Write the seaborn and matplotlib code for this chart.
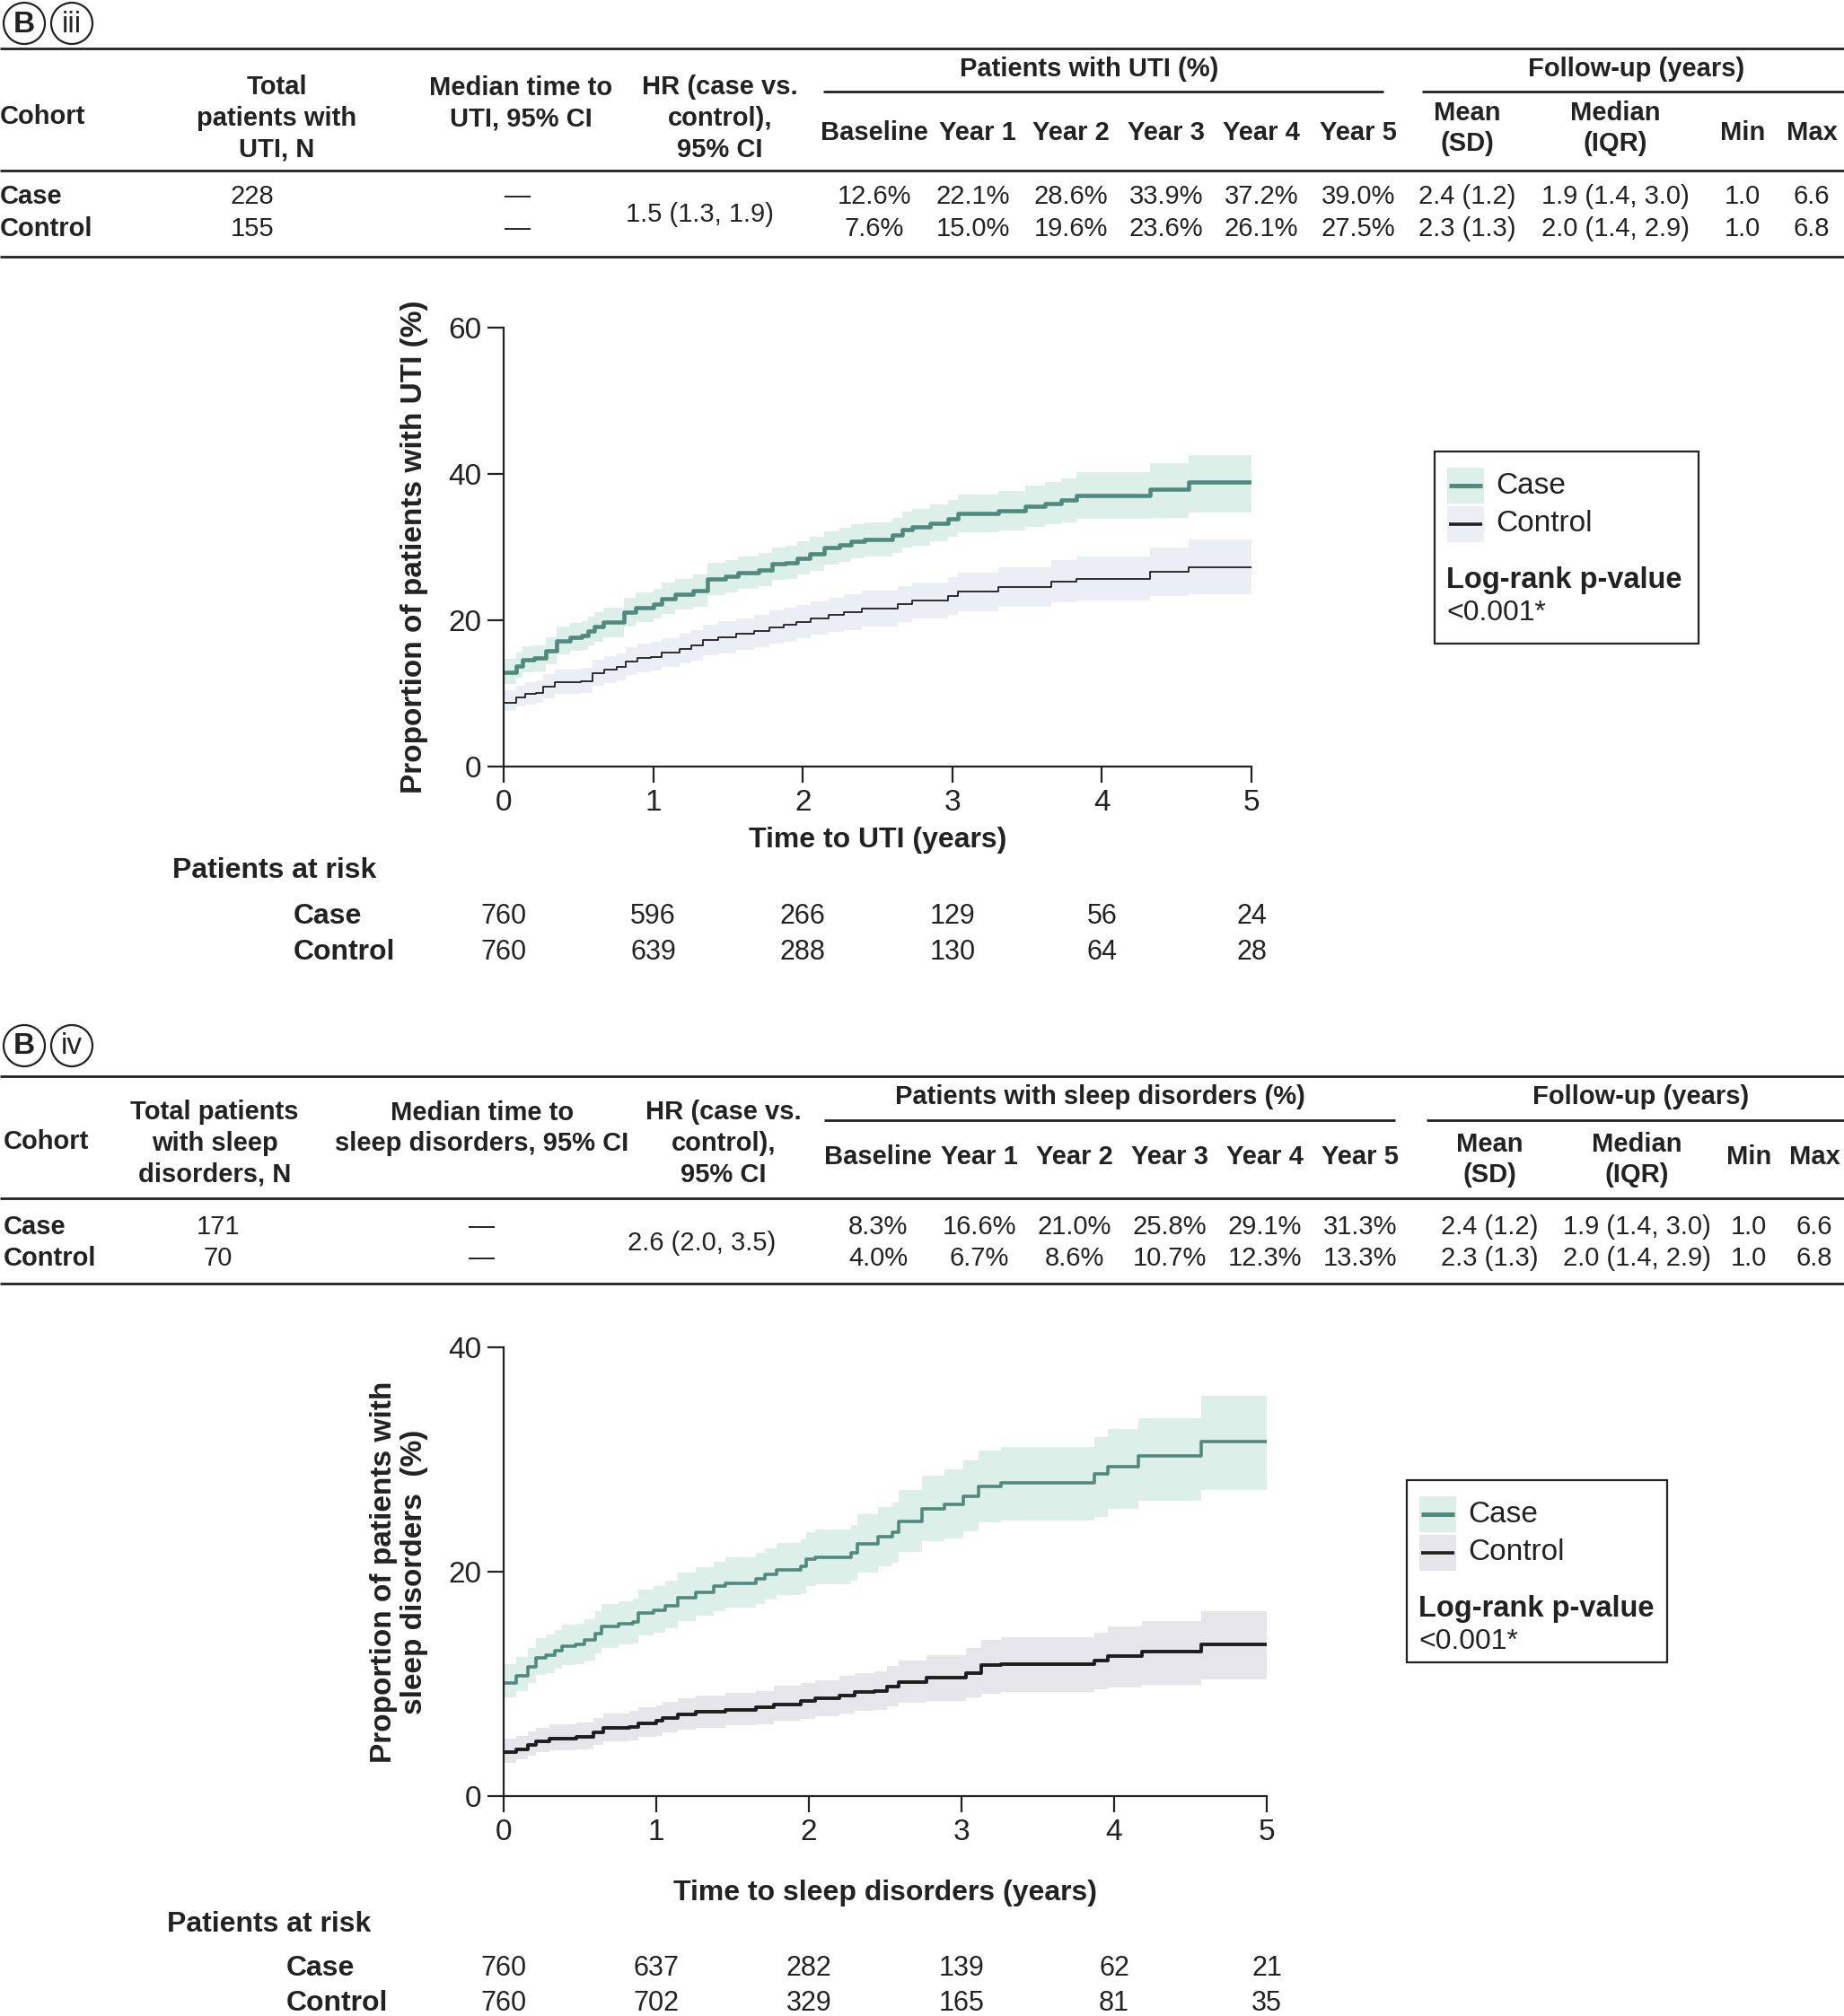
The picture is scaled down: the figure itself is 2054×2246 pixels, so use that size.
import matplotlib
matplotlib.use('Agg')
import matplotlib.pyplot as plt
from matplotlib import font_manager
from matplotlib.patches import Rectangle, Circle
from matplotlib.transforms import blended_transform_factory
import seaborn as sns

# ---------------- data ----------------
years = [0, 1, 2, 3, 4, 5]
pct_cols = ['Baseline', 'Year 1', 'Year 2', 'Year 3', 'Year 4', 'Year 5']
cohorts = ['Case', 'Control']

# follow-up (same for both panels)
fu_mean = [2.4, 2.3]
fu_sd = [1.2, 1.3]
fu_median = [1.9, 2.0]
fu_q1 = [1.4, 1.4]
fu_q3 = [3.0, 2.9]
fu_min = [1.0, 1.0]
fu_max = [6.6, 6.8]

# panel iii - UTI
uti_total = [228, 155]
uti_hr = '1.5 (1.3, 1.9)'
uti_pct_case = [12.6, 22.1, 28.6, 33.9, 37.2, 39.0]
uti_pct_ctrl = [7.6, 15.0, 19.6, 23.6, 26.1, 27.5]
uti_risk_case = [760, 596, 266, 129, 56, 24]
uti_risk_ctrl = [760, 639, 288, 130, 64, 28]

uti_case_t = [0, 0.085, 0.125, 0.205, 0.285, 0.355, 0.445, 0.525, 0.565, 0.605, 0.665, 0.805, 0.885, 1.005,
              1.055, 1.145, 1.265, 1.365, 1.485, 1.565, 1.705, 1.795, 1.885, 1.965, 2.045, 2.145, 2.245, 2.325,
              2.415, 2.60, 2.665, 2.73, 2.85, 2.97, 3.04, 3.31, 3.49, 3.62, 3.73, 3.83, 4.32, 4.58, 5.0]
uti_case_v = [12.9, 13.8, 14.6, 14.8, 15.8, 17.2, 17.7, 17.9, 18.5, 19.1, 19.7, 21.1, 21.7, 22.2,
              23.0, 23.6, 24.0, 25.6, 26.0, 26.5, 26.9, 27.7, 27.9, 28.5, 29.1, 29.9, 30.3, 30.8,
              31.0, 31.6, 32.4, 32.7, 33.3, 33.9, 34.6, 35.0, 35.6, 36.0, 36.4, 37.0, 37.9, 38.9, 38.9]
uti_case_lo = [11.3, 12.1, 12.9, 13.0, 14.0, 15.3, 15.8, 16.0, 16.6, 17.1, 17.7, 19.1, 19.7, 20.2,
               20.9, 21.5, 21.9, 23.4, 23.8, 24.3, 24.7, 25.5, 25.7, 26.3, 26.8, 27.6, 28.0, 28.5,
               28.7, 29.2, 30.0, 30.2, 30.8, 31.4, 32.0, 32.3, 32.8, 33.1, 33.4, 33.9, 34.0, 34.7, 34.7]
uti_case_hi = [14.7, 15.6, 16.4, 16.6, 17.7, 19.1, 19.6, 19.9, 20.5, 21.1, 21.7, 23.1, 23.8, 24.3,
               25.1, 25.7, 26.2, 27.8, 28.2, 28.7, 29.2, 30.0, 30.2, 30.8, 31.4, 32.2, 32.6, 33.1,
               33.4, 34.0, 34.8, 35.2, 35.8, 36.5, 37.2, 37.7, 38.4, 38.9, 39.4, 40.3, 41.5, 42.6, 42.6]

uti_ctrl_t = [0, 0.085, 0.145, 0.215, 0.265, 0.345, 0.515, 0.595, 0.675, 0.755, 0.815, 0.895, 0.985, 1.055,
              1.175, 1.255, 1.335, 1.435, 1.555, 1.675, 1.775, 1.875, 1.955, 2.055, 2.175, 2.275, 2.395, 2.635,
              2.73, 2.97, 3.04, 3.31, 3.66, 3.83, 4.32, 4.58, 5.0]
uti_ctrl_v = [8.7, 9.5, 9.9, 10.1, 10.9, 11.5, 11.7, 12.8, 13.2, 13.6, 14.4, 14.8, 15.0, 15.6,
              16.1, 16.6, 17.3, 17.7, 18.1, 18.5, 19.0, 19.4, 19.8, 20.3, 20.7, 21.1, 21.6, 22.2,
              22.7, 23.3, 23.9, 24.5, 25.3, 25.7, 26.6, 27.2, 27.2]
uti_ctrl_lo = [7.6, 8.2, 8.5, 8.7, 9.3, 9.9, 10.1, 11.0, 11.4, 11.8, 12.5, 12.9, 13.1, 13.6,
               14.1, 14.5, 15.2, 15.5, 15.9, 16.3, 16.8, 17.1, 17.5, 18.0, 18.4, 18.7, 19.2, 19.8,
               20.2, 20.7, 21.2, 21.8, 22.4, 22.7, 23.3, 23.6, 23.6]
uti_ctrl_hi = [10.4, 11.1, 11.5, 11.8, 12.6, 13.2, 13.5, 14.6, 15.1, 15.5, 16.3, 16.8, 17.0, 17.6,
               18.2, 18.7, 19.4, 19.9, 20.3, 20.7, 21.3, 21.7, 22.1, 22.6, 23.1, 23.5, 24.0, 24.7,
               25.2, 25.9, 26.5, 27.2, 28.2, 28.7, 29.9, 31.0, 31.0]

# panel iv - sleep disorders
slp_total = [171, 70]
slp_hr = '2.6 (2.0, 3.5)'
slp_pct_case = [8.3, 16.6, 21.0, 25.8, 29.1, 31.3]
slp_pct_ctrl = [4.0, 6.7, 8.6, 10.7, 12.3, 13.3]
slp_risk_case = [760, 637, 282, 139, 62, 21]
slp_risk_ctrl = [760, 702, 329, 165, 81, 35]

slp_case_t = [0, 0.082, 0.16, 0.21, 0.276, 0.335, 0.382, 0.47, 0.53, 0.60, 0.64, 0.75, 0.845, 0.885, 0.985,
              1.06, 1.14, 1.26, 1.375, 1.455, 1.65, 1.71, 1.79, 1.945, 1.985, 2.04, 2.275, 2.316, 2.45, 2.55,
              2.59, 2.74, 2.89, 3.01, 3.11, 3.26, 3.87, 3.96, 4.16, 4.57, 5.0]
slp_case_v = [10.1, 10.7, 11.5, 12.3, 12.6, 13.0, 13.4, 13.5, 13.9, 14.5, 15.1, 15.4, 15.5, 16.3, 16.6,
              17.0, 17.7, 18.2, 18.7, 19.0, 19.4, 19.8, 20.2, 20.5, 21.1, 21.3, 21.7, 22.5, 23.1, 23.5,
              24.5, 25.6, 26.0, 26.7, 27.6, 27.9, 28.7, 29.4, 30.3, 31.6, 31.6]
slp_case_lo = [8.8, 9.4, 10.1, 10.8, 11.0, 11.4, 11.7, 11.8, 12.1, 12.7, 13.2, 13.5, 13.6, 14.3, 14.6,
               15.0, 15.6, 16.1, 16.5, 16.8, 17.1, 17.5, 17.9, 18.1, 18.7, 18.9, 19.2, 19.9, 20.5, 20.8,
               21.8, 22.7, 23.0, 23.6, 24.4, 24.6, 24.9, 25.6, 26.3, 27.3, 27.3]
slp_case_hi = [11.8, 12.4, 13.2, 14.1, 14.4, 14.8, 15.3, 15.4, 15.8, 16.5, 17.1, 17.4, 17.6, 18.4, 18.7,
               19.2, 19.9, 20.4, 20.9, 21.3, 21.7, 22.1, 22.6, 22.9, 23.5, 23.8, 24.2, 25.1, 25.8, 26.2,
               27.3, 28.6, 29.1, 29.9, 30.8, 31.1, 32.0, 32.7, 33.7, 35.7, 35.7]

slp_ctrl_t = [0, 0.085, 0.16, 0.21, 0.30, 0.475, 0.59, 0.65, 0.825, 0.885, 1.0, 1.04, 1.14, 1.26, 1.455,
              1.65, 1.77, 1.945, 2.04, 2.2, 2.3, 2.43, 2.51, 2.59, 2.77, 3.03, 3.13, 3.26, 3.87, 3.96, 4.18,
              4.57, 5.0]
slp_ctrl_v = [3.9, 4.2, 4.6, 4.9, 5.1, 5.3, 5.7, 6.1, 6.2, 6.5, 6.7, 7.0, 7.3, 7.5, 7.7,
              7.9, 8.2, 8.5, 8.7, 9.0, 9.3, 9.4, 9.8, 10.2, 10.6, 11.0, 11.7, 11.8, 12.1, 12.5, 12.9,
              13.5, 13.5]
slp_ctrl_lo = [3.0, 3.3, 3.6, 3.9, 4.1, 4.2, 4.6, 4.9, 5.0, 5.3, 5.4, 5.7, 5.9, 6.1, 6.3,
               6.4, 6.7, 6.9, 7.1, 7.4, 7.6, 7.7, 8.0, 8.3, 8.5, 8.8, 9.1, 9.3, 9.5, 9.7, 9.9,
               10.4, 10.4]
slp_ctrl_hi = [5.1, 5.4, 5.8, 6.1, 6.4, 6.6, 7.0, 7.4, 7.6, 7.9, 8.1, 8.4, 8.7, 9.0, 9.2,
               9.4, 9.8, 10.1, 10.3, 10.7, 11.0, 11.1, 11.6, 12.1, 12.6, 13.2, 13.9, 14.2, 14.6, 15.1, 15.6,
               16.5, 16.5]

# ---------------- style ----------------
sns.set_theme(style='ticks')
plt.rcParams['font.family'] = ['Liberation Sans', 'DejaVu Sans']
names = {f.name for f in font_manager.fontManager.ttflist}
NARROW = 'Liberation Sans Narrow' if 'Liberation Sans Narrow' in names else 'Liberation Sans'
SANS = 'Liberation Sans'

CASE_LINE = '#4e8b7c'
CASE_BAND = '#dcefe9'
CTRL_LINE = '#1e1e1e'
CTRL_BAND1 = '#eceef5'
CTRL_BAND2 = '#e6e6ea'
INK = '#222222'

W, H = 2054, 2246
fig = plt.figure(figsize=(W / 100, H / 100), dpi=100)
ov = fig.add_axes([0, 0, 1, 1])
ov.set_xlim(0, W)
ov.set_ylim(H, 0)
ov.axis('off')

TS = 21  # table font size


def tx(x, y, s, ha='center', bold=False, size=TS, fam=None, **kw):
    ov.text(x, y, s, ha=ha, va='center', fontsize=size, linespacing=1.3, color=INK,
            fontweight='bold' if bold else 'normal', family=fam or NARROW, **kw)


def hline(y, x0=0, x1=W, lw=2.0):
    ov.plot([x0, x1], [y, y], color=INK, lw=lw, solid_capstyle='butt')


def badge(y, roman):
    for cx, s in [(27, 'B'), (80, roman)]:
        ov.add_patch(Circle((cx, y), 23, fc='white', ec=INK, lw=1.6))
        tx(cx, y + 1, s, bold=(s == 'B'), size=24)


def draw_table(L, heads, group, pct_case, pct_ctrl, totals, hr):
    for y in L['rules']:
        hline(y)
    for x0, x1 in L['spans']:
        hline(L['sub'], x0, x1)
    tx(L['cohort_x'], L['cohort_y'], 'Cohort', ha='left', bold=True)
    for (s, x, y) in zip(heads, L['head_x'], L['head_y']):
        tx(x, y, s, bold=True)
    tx(L['group_x'][0], L['group_y'], group, bold=True)
    tx(L['group_x'][1], L['group_y'], 'Follow-up (years)', bold=True)
    for s, x in zip(pct_cols, L['pct_head_x']):
        tx(x, L['col_y'], s, bold=True)
    for s, x, y in zip(['Mean\n(SD)', 'Median\n(IQR)', 'Min', 'Max'], L['fu_x'], L['fu_head_y']):
        tx(x, y, s, bold=True)
    for i, (name, pcts) in enumerate(zip(cohorts, [pct_case, pct_ctrl])):
        y = L['row_y'][i]
        tx(L['cohort_x'], y, name, ha='left', bold=True)
        tx(L['total_x'], y, str(totals[i]))
        tx(L['dash_x'], y, '—')
        for v, x in zip(pcts, L['pct_x']):
            tx(x, y, f'{v:.1f}%')
        fu = [f'{fu_mean[i]:.1f} ({fu_sd[i]:.1f})',
              f'{fu_median[i]:.1f} ({fu_q1[i]:.1f}, {fu_q3[i]:.1f})',
              f'{fu_min[i]:.1f}', f'{fu_max[i]:.1f}']
        for s, x in zip(fu, L['fu_x']):
            tx(x, y, s)
    tx(L['hr_x'], L['hr_y'], hr)


def km_axes(rect, curves, ymax, yticks, ylabel, xlabel, xlabelpad):
    left, top, right, bottom = rect
    ax = fig.add_axes([left / W, 1 - bottom / H, (right - left) / W, (bottom - top) / H])
    for t, v, lo, hi, lc, bc, lw in curves:
        ax.fill_between(t, lo, hi, step='post', color=bc, lw=0)
    for t, v, lo, hi, lc, bc, lw in curves:
        sns.lineplot(x=t, y=v, drawstyle='steps-post', color=lc, lw=lw, ax=ax, estimator=None)
    ax.set_xlim(0, 5)
    ax.set_ylim(0, ymax)
    ax.set_xticks(years)
    ax.set_yticks(yticks)
    sns.despine(ax=ax)
    for sp in ['left', 'bottom']:
        ax.spines[sp].set_linewidth(1.6)
        ax.spines[sp].set_color(INK)
    ax.tick_params(direction='out', length=13, width=1.6, color=INK,
                   labelsize=24, pad=5, labelcolor=INK)
    for lab in ax.get_xticklabels() + ax.get_yticklabels():
        lab.set_family(SANS)
    ax.set_ylabel(ylabel, fontsize=24, fontweight='bold', family=SANS, labelpad=16,
                  linespacing=1.1, color=INK)
    ax.set_xlabel(xlabel, fontsize=23, fontweight='bold', family=NARROW, labelpad=xlabelpad, color=INK)
    ax.set_facecolor('none')
    return ax


def risk_table(ax, L, rc, rk):
    tr = blended_transform_factory(ax.transData, ov.transData)
    tx(L['title_x'], L['title_y'], 'Patients at risk', ha='left', bold=True, size=23)
    for name, vals, y in zip(cohorts, [rc, rk], L['rows_y']):
        tx(L['name_x'], y, name, ha='left', bold=True, size=23)
        for yr, n in zip(years, vals):
            ov.text(yr, y, str(n), transform=tr, ha='center', va='center', fontsize=22,
                    family=NARROW, color=INK)


def legend_box(x0, y0, w, h, ctrl_band, ctrl_lw, case_lw):
    ov.add_patch(Rectangle((x0, y0), w, h, fc='white', ec=INK, lw=1.6))
    for (name, yy, band, lc, lw) in [('Case', y0 + 38, CASE_BAND, CASE_LINE, case_lw),
                                     ('Control', y0 + 81, ctrl_band, CTRL_LINE, ctrl_lw)]:
        ov.add_patch(Rectangle((x0 + 14, yy - 20), 41, 40, fc=band, ec='none'))
        ov.plot([x0 + 16, x0 + 53], [yy, yy], color=lc, lw=lw, solid_capstyle='butt')
        ov.text(x0 + 68, yy, name, ha='left', va='center', fontsize=24, family=SANS, color=INK)
    ov.text(x0 + 13, y0 + 143, 'Log-rank p-value', ha='left', va='center', fontsize=23.5,
            fontweight='bold', family=SANS, color=INK)
    ov.text(x0 + 13, y0 + 180, '<0.001*', ha='left', va='center', fontsize=23, family=SANS, color=INK)


# ---------------- panel iii ----------------
badge(26, 'iii')
L1 = dict(rules=(54, 190, 286), sub=102, spans=((917, 1541), (1584, 2054)),
          cohort_x=0, cohort_y=130, head_x=[308, 580, 802], head_y=[132, 115, 132],
          group_x=[1213, 1823], group_y=77,
          pct_head_x=[974, 1089, 1193, 1299, 1405, 1513], pct_x=[974, 1084, 1193, 1299, 1405, 1513],
          col_y=148, fu_x=[1634, 1799, 1941, 2018], fu_head_y=[143, 143, 148, 148],
          row_y=[219, 255], total_x=281, dash_x=577, hr_x=779, hr_y=239)
draw_table(L1, ['Total\npatients with\nUTI, N', 'Median time to\nUTI, 95% CI', 'HR (case vs.\ncontrol),\n95% CI'],
           'Patients with UTI (%)', uti_pct_case, uti_pct_ctrl, uti_total, uti_hr)

ax1 = km_axes((561, 365, 1394, 854),
              [(uti_case_t, uti_case_v, uti_case_lo, uti_case_hi, CASE_LINE, CASE_BAND, 3.3),
               (uti_ctrl_t, uti_ctrl_v, uti_ctrl_lo, uti_ctrl_hi, CTRL_LINE, CTRL_BAND1, 1.3)],
              60, [0, 20, 40, 60], 'Proportion of patients with UTI (%)', 'Time to UTI (years)', 8)
risk_table(ax1, dict(title_x=192, title_y=970, name_x=327, rows_y=[1021, 1061]), uti_risk_case, uti_risk_ctrl)
legend_box(1598, 503, 294, 214, CTRL_BAND1, 2.6, 3.6)

# ---------------- panel iv ----------------
badge(1165, 'iv')
L2 = dict(rules=(1199, 1335, 1430), sub=1248, spans=((918, 1554), (1589, 2054)),
          cohort_x=4, cohort_y=1272, head_x=[239, 537, 806], head_y=[1274, 1257, 1274],
          group_x=[1225, 1828], group_y=1222,
          pct_head_x=[978, 1091, 1197, 1303, 1409, 1515], pct_x=[978, 1091, 1197, 1303, 1409, 1515],
          col_y=1289, fu_x=[1659, 1823, 1948, 2021], fu_head_y=[1292, 1292, 1289, 1289],
          row_y=[1367, 1402], total_x=243, dash_x=537, hr_x=782, hr_y=1385)
draw_table(L2, ['Total patients\nwith sleep\ndisorders, N', 'Median time to\nsleep disorders, 95% CI',
                'HR (case vs.\ncontrol),\n95% CI'],
           'Patients with sleep disorders (%)', slp_pct_case, slp_pct_ctrl, slp_total, slp_hr)

ax2 = km_axes((561, 1501, 1411, 2001),
              [(slp_case_t, slp_case_v, slp_case_lo, slp_case_hi, CASE_LINE, CASE_BAND, 2.6),
               (slp_ctrl_t, slp_ctrl_v, slp_ctrl_lo, slp_ctrl_hi, CTRL_LINE, CTRL_BAND2, 2.8)],
              40, [0, 20, 40], 'Proportion of patients with\nsleep disorders  (%)',
              'Time to sleep disorders (years)', 27)
risk_table(ax2, dict(title_x=186, title_y=2144, name_x=319, rows_y=[2193, 2232]), slp_risk_case, slp_risk_ctrl)
legend_box(1567, 1649, 290, 203, CTRL_BAND2, 2.6, 3.6)

fig.savefig('out.png', dpi=100, facecolor='white')
